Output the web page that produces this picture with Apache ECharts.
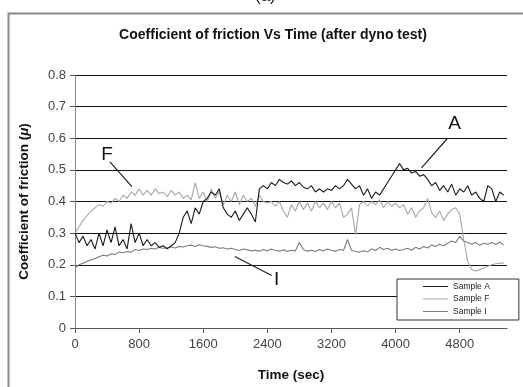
<!DOCTYPE html>
<html>
<head>
<meta charset="utf-8">
<script src="https://cdn.jsdelivr.net/npm/echarts@6/dist/echarts.min.js"></script>
<style>html,body{margin:0;padding:0;background:#fff}#c{width:523px;height:387px}</style>
</head>
<body>
<div id="c"></div>
<script>
const timeSec = [0,50,100,150,200,250,300,350,400,450,500,550,600,650,700,750,800,850,900,950,1000,1050,1100,1150,1200,1250,1300,1350,1400,1450,1500,1550,1600,1650,1700,1750,1800,1850,1900,1950,2000,2050,2100,2150,2200,2250,2300,2350,2400,2450,2500,2550,2600,2650,2700,2750,2800,2850,2900,2950,3000,3050,3100,3150,3200,3250,3300,3350,3400,3450,3500,3550,3600,3650,3700,3750,3800,3850,3900,3950,4000,4050,4100,4150,4200,4250,4300,4350,4400,4450,4500,4550,4600,4650,4700,4750,4800,4850,4900,4950,5000,5050,5100,5150,5200,5250,5300,5350];

const sampleA = [0.30,0.27,0.29,0.26,0.28,0.25,0.30,0.26,0.31,0.27,0.32,0.26,0.28,0.25,0.33,0.27,0.30,0.26,0.28,0.26,0.27,0.255,0.26,0.25,0.26,0.27,0.30,0.35,0.37,0.33,0.38,0.36,0.40,0.41,0.43,0.42,0.44,0.38,0.36,0.35,0.37,0.34,0.36,0.38,0.36,0.335,0.44,0.45,0.44,0.46,0.45,0.47,0.46,0.455,0.465,0.45,0.46,0.445,0.44,0.45,0.43,0.44,0.43,0.44,0.435,0.45,0.44,0.45,0.47,0.455,0.44,0.45,0.42,0.44,0.41,0.43,0.42,0.44,0.46,0.48,0.50,0.52,0.50,0.505,0.49,0.495,0.48,0.485,0.47,0.45,0.46,0.435,0.45,0.43,0.455,0.42,0.44,0.43,0.45,0.42,0.43,0.41,0.40,0.45,0.44,0.40,0.43,0.42];

const sampleF = [0.30,0.32,0.34,0.355,0.37,0.38,0.39,0.385,0.40,0.395,0.41,0.40,0.42,0.41,0.43,0.42,0.44,0.42,0.435,0.42,0.44,0.425,0.43,0.415,0.435,0.42,0.43,0.41,0.42,0.405,0.46,0.41,0.43,0.40,0.44,0.41,0.43,0.39,0.42,0.40,0.43,0.39,0.42,0.40,0.41,0.385,0.42,0.40,0.395,0.40,0.385,0.40,0.37,0.35,0.39,0.37,0.40,0.375,0.395,0.37,0.40,0.38,0.395,0.375,0.40,0.38,0.395,0.35,0.36,0.38,0.295,0.39,0.40,0.385,0.40,0.39,0.405,0.38,0.40,0.385,0.395,0.38,0.39,0.36,0.38,0.35,0.37,0.38,0.41,0.365,0.35,0.37,0.34,0.36,0.375,0.38,0.36,0.28,0.21,0.185,0.18,0.185,0.19,0.195,0.20,0.203,0.205,0.205];

const sampleI = [0.19,0.20,0.205,0.21,0.215,0.22,0.225,0.23,0.228,0.235,0.232,0.24,0.238,0.242,0.24,0.248,0.245,0.25,0.248,0.252,0.25,0.255,0.252,0.254,0.256,0.253,0.258,0.256,0.26,0.262,0.258,0.263,0.26,0.258,0.255,0.257,0.252,0.254,0.25,0.252,0.248,0.245,0.25,0.247,0.244,0.246,0.243,0.248,0.244,0.25,0.245,0.243,0.247,0.242,0.246,0.244,0.27,0.248,0.243,0.246,0.242,0.248,0.244,0.25,0.246,0.243,0.248,0.245,0.28,0.246,0.242,0.24,0.244,0.24,0.25,0.245,0.255,0.248,0.252,0.246,0.25,0.245,0.248,0.252,0.246,0.255,0.25,0.258,0.253,0.262,0.258,0.265,0.26,0.268,0.275,0.27,0.29,0.275,0.27,0.265,0.27,0.262,0.268,0.265,0.27,0.264,0.272,0.262];

const seriesNames = ['Sample A','Sample F','Sample I'];
const seriesColors = ['#1a1a1a','#a6a6a6','#7c7c7c'];
const yTicks = [0,0.1,0.2,0.3,0.4,0.5,0.6,0.7,0.8];
const xTicks = [0,800,1600,2400,3200,4000,4800];

// annotations: [label, textTime, textValue, arrowStartTime, arrowStartValue, arrowEndTime, arrowEndValue]
const notes = [
  ['F', 400, 0.548, 436, 0.525, 710, 0.447],
  ['A', 4735, 0.645, 4648, 0.60, 4324, 0.506],
  ['I', 2517, 0.154, 2455, 0.166, 1994, 0.226]
];

function pairs(vals){ return timeSec.map((t,i)=>[t, vals[i]]); }
const font = 'Liberation Sans, Arial, sans-serif';

const chart = echarts.init(document.getElementById('c'), null, {renderer:'canvas'});
const allData = [sampleA, sampleF, sampleI];
const series = seriesNames.map((n,i)=>({
  name:n, type:'line', data:pairs(allData[i]), symbol:'none', showSymbol:false,
  lineStyle:{color:seriesColors[i], width:1.1}, itemStyle:{color:seriesColors[i]},
  animation:false, z: 3 - i
}));
series.push({
  type:'line', data:[], silent:true, animation:false,
  markLine:{
    silent:true, symbol:['none','arrow'], symbolSize:[0,9], animation:false,
    label:{show:false}, lineStyle:{color:'#222', width:1.2, type:'solid'},
    data: notes.map(n=>[{coord:[n[3],n[4]]},{coord:[n[5],n[6]]}])
  },
  markPoint:{
    silent:true, animation:false, symbol:'circle', symbolSize:0,
    label:{show:true, position:'inside', color:'#111', fontSize:19, fontFamily:font, formatter:p=>p.name},
    data: notes.map(n=>({name:n[0], coord:[n[1],n[2]]}))
  }
});

chart.setOption({
  animation:false,
  backgroundColor:'#fff',
  title:{text:'Coefficient of friction Vs Time (after dyno test)', left:268, top:23, textAlign:'center',
    textStyle:{fontSize:14, fontWeight:'bold', color:'#111', fontFamily:font}},
  graphic:[
    {type:'rect', shape:{x:8.5,y:13.5,width:530,height:390}, style:{fill:'none', stroke:'#8a8a8a', lineWidth:2}, silent:true},
    {type:'text', left:255, top:-12, style:{text:'(a)', fontSize:17, fill:'#222', fontFamily:font}, silent:true}
  ],
  legend:{
    data:seriesNames, orient:'vertical', left:397, top:279,
    padding:[3,29,4,26], itemGap:3.5, itemWidth:25, itemHeight:10,
    icon:'path://M0,0L25,0L25,1L0,1Z',
    backgroundColor:'#fff', borderColor:'#333', borderWidth:1, borderRadius:0,
    textStyle:{fontSize:8.5, color:'#222', fontFamily:font}
  },
  grid:{left:75, right:16, top:75, bottom:58, containLabel:false},
  xAxis:{
    type:'value', min:0, max:5390, interval:800,
    name:'Time (sec)', nameLocation:'middle', nameGap:40,
    nameTextStyle:{fontSize:13.5, fontWeight:'bold', color:'#111', fontFamily:font},
    axisLine:{lineStyle:{color:'#555', width:1}},
    axisTick:{show:true, length:5, lineStyle:{color:'#555'}},
    axisLabel:{color:'#444', fontSize:13, margin:10, fontFamily:font, showMaxLabel:false,
      formatter:v=> xTicks.indexOf(v)>=0 ? String(v) : ''},
    splitLine:{show:false}
  },
  yAxis:{
    type:'value', min:yTicks[0], max:yTicks[yTicks.length-1], interval:0.1,
    name:'{n|Coefficient of friction (}{m|μ}{n|)}', nameLocation:'middle', nameGap:44,
    nameTextStyle:{fontSize:13.5, fontWeight:'bold', color:'#111', fontFamily:font,
      rich:{n:{fontSize:13.5, fontWeight:'bold', color:'#111', fontFamily:font},
            m:{fontSize:13.5, fontWeight:'bold', fontStyle:'italic', color:'#111', fontFamily:font}}},
    axisLine:{show:true, lineStyle:{color:'#888', width:1}},
    axisTick:{show:true, length:5, inside:false, lineStyle:{color:'#555'}},
    axisLabel:{color:'#444', fontSize:13, margin:9, fontFamily:font,
      formatter:v=> v===0 ? '0' : (Math.round(v*10)/10).toFixed(1)},
    splitLine:{show:true, lineStyle:{color:'#111', width:1}}
  },
  series:series
});
</script>
</body>
</html>
